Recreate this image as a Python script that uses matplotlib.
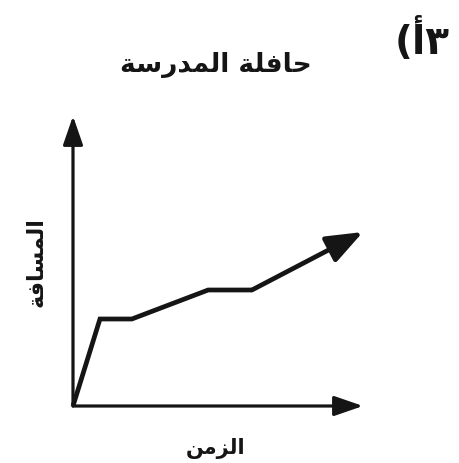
import matplotlib
matplotlib.use("Agg")
import matplotlib.pyplot as plt

# Data (arbitrary units)
time = [0, 0.93, 2.03, 4.66, 6.17, 10.0]
distance = [0, 3.0, 3.0, 4.0, 4.0, 6.0]

# Arabic text
title_ar = "حافلة المدرسة"
x_label_ar = "الزمن"
y_label_ar = "المسافة"

def shape_visual(s):
    forms = {
        # char: (isolated, final, initial, medial)
        'ا': ('\uFE8D', '\uFE8E', None, None),
        'ل': ('\uFEDD', '\uFEDE', '\uFEDF', '\uFEE0'),
        'م': ('\uFEE1', '\uFEE2', '\uFEE3', '\uFEE4'),
        'د': ('\uFEA9', '\uFEAA', None, None),
        'ر': ('\uFEAD', '\uFEAE', None, None),
        'ز': ('\uFEAF', '\uFEB0', None, None),
        'س': ('\uFEB1', '\uFEB2', '\uFEB3', '\uFEB4'),
        'ة': ('\uFE93', '\uFE94', None, None),
        'ح': ('\uFEA1', '\uFEA2', '\uFEA3', '\uFEA4'),
        'ف': ('\uFED1', '\uFED2', '\uFED3', '\uFED4'),
        'ن': ('\uFEE5', '\uFEE6', '\uFEE7', '\uFEE8'),
    }
    words = s.split(' ')
    out_words = []
    for w in words:
        res = []
        for i, c in enumerate(w):
            f = forms[c]
            prev_joins = i > 0 and forms[w[i - 1]][2] is not None
            next_exists = i < len(w) - 1
            can_join_next = f[2] is not None and next_exists
            if prev_joins and can_join_next:
                res.append(f[3])
            elif prev_joins:
                res.append(f[1])
            elif can_join_next:
                res.append(f[2])
            else:
                res.append(f[0])
        out_words.append(''.join(reversed(res)))
    return ' '.join(reversed(out_words))

W, H = 459, 464
fig = plt.figure(figsize=(W / 100, H / 100), dpi=100)
ax = fig.add_axes([73 / W, (H - 407) / H, 290 / W, 290 / H])
ax.set_xlim(0, 10)
ax.set_ylim(0, 10)
ax.axis('off')

ink = '#151515'

axis_arrow = dict(arrowstyle='-|>,head_length=1.1,head_width=0.38',
                  lw=2.3, color=ink, shrinkA=0, shrinkB=0, mutation_scale=16)
ax.annotate('', xy=(10, 0), xytext=(0, 0), arrowprops=axis_arrow,
            annotation_clip=False)
ax.annotate('', xy=(0, 10), xytext=(0, 0), arrowprops=axis_arrow,
            annotation_clip=False)

# distance-time polyline
ax.plot(time[:-1], distance[:-1], color=ink, lw=3.4,
        solid_joinstyle='miter', solid_capstyle='butt', clip_on=False)
ax.annotate('', xy=(time[-1], distance[-1]), xytext=(time[-2], distance[-2]),
            arrowprops=dict(arrowstyle='-|>,head_length=1.3,head_width=0.5',
                            lw=3.4, color=ink, shrinkA=0, shrinkB=0,
                            mutation_scale=17), annotation_clip=False)

fp = dict(family=['DejaVu Sans'], fontweight='bold', color=ink)
fig.text(216 / W, 1 - 65 / H, shape_visual(title_ar), ha='center', va='center',
         fontsize=19, **fp)
fig.text(216 / W, 1 - 449 / H, shape_visual(x_label_ar), ha='center', va='center',
         fontsize=15, **fp)
fig.text(37 / W, 1 - 262 / H, shape_visual(y_label_ar), ha='center', va='center',
         fontsize=16, rotation=90, **fp)
fig.text(422 / W, 1 - 40 / H, "(\uFE83\u0663", ha='center', va='center',
         fontsize=28, **fp)

fig.savefig('out.png', dpi=100, facecolor='white')
